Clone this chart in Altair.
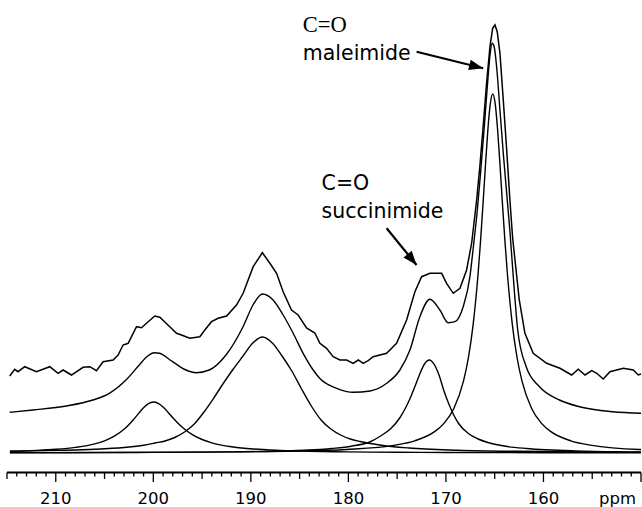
import altair as alt
import pandas as pd

# ---------------- data (ppm, intensity) ----------------
noisy_ppm = [214.72, 214.21, 213.87, 213.18, 211.98, 210.62, 209.76, 209.25, 208.39, 207.20,
             206.51, 205.83, 205.15, 204.12, 203.61, 203.10, 202.58, 201.72, 201.21, 200.70,
             199.85, 199.33, 198.31, 197.62, 197.11, 196.26, 195.23, 194.72, 194.03, 193.35,
             192.49, 191.47, 190.79, 189.76, 188.82, 188.05, 187.36, 186.69, 185.83, 185.15,
             184.29, 183.44, 182.92, 182.24, 181.56, 180.87, 180.18, 179.51, 178.99, 178.48,
             177.97, 177.46, 176.08, 175.06, 174.03, 173.18, 172.49, 171.64, 170.44, 169.93,
             169.25, 168.56, 167.88, 167.36, 166.85, 166.51, 166.17, 165.83, 165.49, 165.21,
             164.97, 164.74, 164.46, 164.12, 163.77, 163.44, 163.16, 162.48, 161.90, 161.05,
             159.67, 158.31, 157.11, 156.43, 155.74, 155.05, 154.54, 153.87, 153.18, 151.81,
             150.79, 150.28, 150.0]
noisy_int = [77, 83.7, 81.3, 86.3, 81.3, 86.3, 79.7, 83, 78, 85.7,
             86.3, 82.3, 91.3, 93, 98, 108, 109.7, 126.3, 125.3, 129.7,
             137, 135.7, 126.3, 119.7, 118, 114.7, 116.3, 123, 131.3, 134.7,
             137, 148, 159.7, 186.3, 200.3, 189.7, 179.7, 161.3, 143, 138,
             125, 120, 109.7, 104.7, 96.3, 93, 93, 89.7, 93, 89.7,
             92.3, 96.3, 99.7, 109.7, 133, 161.3, 176.3, 179.7, 179.7, 169.7,
             159.7, 164.7, 183, 210, 253, 288, 328, 370, 406, 424.7,
             428, 421.3, 399.7, 353, 303, 253, 215, 153, 119.7, 99.7,
             89.7, 84.7, 78, 83.7, 78, 82.3, 79.7, 74, 81.3, 84.7,
             83, 78, 79]

fit_ppm = [214.72, 212.33, 208.91, 206.19, 204.51, 202.80, 201.44, 200.58, 199.90, 199.38,
           198.02, 196.65, 195.62, 194.26, 192.55, 190.80, 189.78, 188.81, 187.72, 186.69,
           185.66, 184.64, 183.61, 182.92, 181.20, 179.49, 177.78, 176.07, 174.72, 173.69,
           172.67, 171.64, 170.62, 169.77, 169.08, 168.23, 167.54, 167.20, 166.79, 166.45,
           166.10, 165.76, 165.49, 165.26, 165.05, 164.80, 164.46, 164.12, 163.77, 163.44,
           162.97, 162.63, 161.77, 160.41, 158.36, 156.31, 152.89, 150.0]
fit_int = [40.7, 43, 47, 53, 59.7, 73, 88, 97, 100.3, 99.7,
           91.3, 83, 80.3, 83, 98, 126.3, 148, 159, 153, 138,
           119.7, 99.7, 83, 74.5, 64.7, 60.7, 62, 69.7, 83, 103,
           136.3, 153.7, 143, 130.3, 131.3, 146.3, 176.3, 205, 242, 280,
           322, 366, 397, 409.7, 406, 386, 343, 299.7, 259.7, 222,
           160, 122, 86.3, 66.3, 53, 46.3, 41.3, 39.7]

c200_ppm = [214.7, 212, 210, 208, 206, 205, 204, 203, 202, 201.5, 201, 200.5, 200, 199.5, 199,
            198.5, 198, 197, 196, 195, 194, 192, 190, 187, 184, 180, 175, 170, 160, 150]
c200_int = [1.7, 2.6, 3.7, 5.6, 9.1, 12.2, 16.8, 23.7, 33.8, 39.6, 45.2, 49.4, 51, 49.6, 45.9,
            40.8, 35.3, 25.5, 18.4, 13.5, 10.2, 6.3, 4.2, 2.6, 1.7, 1.1, 0.7, 0.5, 0.3, 0.2]

c189_ppm = [214.7, 210, 206, 203, 201, 199.8, 198.8, 197.8, 196.8, 195.8, 194.8, 193.8, 192.8,
            191.8, 190.8, 189.8, 188.8, 187.8, 186.8, 185.8, 184.8, 183.8, 182.8, 181.8, 180.8,
            179.8, 178.8, 176.8, 173.8, 168.8, 162.8, 150]
c189_int = [1.7, 2.6, 3.7, 5.5, 7.7, 10, 12, 15.5, 21, 29, 41, 55, 70,
            84, 97, 110, 116, 110, 97, 82, 64, 47, 33, 24, 18,
            14, 11.5, 8, 5, 2.8, 1.7, 0.9]

c172_ppm = [214.7, 201.7, 191.7, 186.7, 181.7, 179.7, 177.7, 176.7, 175.7, 174.7, 174.2, 173.7,
            173.2, 172.7, 172.2, 171.7, 171.2, 170.7, 170.2, 169.7, 169.2, 168.7, 167.7, 166.7,
            165.7, 163.7, 161.7, 156.7, 151.7, 150]
c172_int = [0.25, 0.52, 1.16, 2.05, 4.5, 6.8, 11.5, 17, 24, 35.5, 44, 54,
            66, 78.5, 89, 93, 88.6, 77.7, 62, 49, 38, 29.5, 19.5, 14,
            10.5, 6.5, 4.5, 2.05, 1.16, 1.0]

c165_ppm = [214.7, 195.2, 185.2, 180.2, 175.2, 173.2, 171.2, 170.2, 169.2, 168.2, 167.7, 167.2,
            166.7, 166.45, 166.2, 165.95, 165.7, 165.45, 165.2, 164.95, 164.7, 164.45, 164.2,
            163.95, 163.7, 163.2, 162.7, 162.2, 161.2, 160.2, 159.2, 157.2, 155.2, 150.2, 150]
c165_int = [0.33, 0.9, 2.0, 3.55, 7.9, 12.2, 21.1, 29.6, 44.3, 71.8, 95, 129.2,
            179.5, 211.9, 248.5, 287.2, 323.1, 349.3, 359, 349.3, 323.1, 287.2, 248.5,
            211.9, 179.5, 129.2, 95, 71.8, 44.3, 29.6, 21.1, 12.2, 7.9, 3.55, 3.5]

minor_ticks = [t for t in range(150, 216) if t % 5 != 0]
mid_ticks = [t for t in range(150, 216) if t % 5 == 0 and t % 10 != 0]
major_ticks = [t for t in range(150, 216) if t % 10 == 0]
tick_labels = ["160", "170", "180", "190", "200", "210"]
tick_label_pos = [160, 170, 180, 190, 200, 210]

ann_text = ["C=O", "maleimide", "C=O", "succinimide"]
ann_ppm = [184.67, 184.67, 182.75, 182.75]
ann_int = [421.3, 393.0, 263.0, 234.7]

arrow_from_ppm = [173.01, 176.08]
arrow_from_int = [401.3, 224.7]
arrow_to_ppm = [166.18, 173.01]
arrow_to_int = [384.7, 188.0]
arrow_angle = [14.0, 50.7]

# ---------------- tables ----------------
comp_rows = []
for name, xs, ys in [("c200", c200_ppm, c200_int), ("c189", c189_ppm, c189_int),
                     ("c172", c172_ppm, c172_int), ("c165", c165_ppm, c165_int),
                     ("fit", fit_ppm, fit_int)]:
    for a, b in zip(xs, ys):
        comp_rows.append({"ppm": a, "intensity": b, "curve": name})
smooth_df = pd.DataFrame(comp_rows)
noisy_df = pd.DataFrame({"ppm": noisy_ppm, "intensity": noisy_int})

xscale = alt.Scale(domain=[150, 215], reverse=True, nice=False, zero=False)
yscale = alt.Scale(domain=[-20, 453], nice=False, zero=False)

X = lambda f: alt.X(f, type="quantitative", scale=xscale, axis=None)
Y = lambda f: alt.Y(f, type="quantitative", scale=yscale, axis=None)

smooth = alt.Chart(smooth_df).mark_line(color="black", strokeWidth=1.4,
                                        interpolate="monotone").encode(
    x=X("ppm"), y=Y("intensity"), detail="curve:N")

noisy = alt.Chart(noisy_df).mark_line(color="black", strokeWidth=1.5,
                                      interpolate="linear").encode(
    x=X("ppm"), y=Y("intensity"))

axis_line = alt.Chart(pd.DataFrame({"a": [215], "b": [150]})).mark_rule(
    color="black", strokeWidth=1.8).encode(
    x=X("a"), x2="b", y=alt.YDatum(-19.5, scale=yscale, axis=None))

def tick_layer(vals, end):
    return alt.Chart(pd.DataFrame({"t": vals})).mark_rule(color="black", strokeWidth=1.3).encode(
        x=X("t"), y=alt.YDatum(-19.5, scale=yscale, axis=None), y2=alt.Y2Datum(end))

ticks = tick_layer(minor_ticks, -23.5) + tick_layer(mid_ticks, -26) + tick_layer(major_ticks, -29)

labels = alt.Chart(pd.DataFrame({"t": tick_label_pos, "s": tick_labels})).mark_text(
    font="DejaVu Sans", fontSize=16.5, align="center", baseline="alphabetic", color="black").encode(
    x=X("t"), y=alt.YDatum(-50.5, scale=yscale, axis=None), text="s:N")

ppm_label = alt.Chart(pd.DataFrame({"s": ["ppm"]})).mark_text(
    font="DejaVu Sans", fontSize=16.5, align="center", baseline="alphabetic", color="black").encode(
    x=alt.XDatum(152.41, scale=xscale, axis=None), y=alt.YDatum(-50.5, scale=yscale, axis=None),
    text="s:N")

ann_df = pd.DataFrame({"s": ann_text, "p": ann_ppm, "i": ann_int})
ann_serif = alt.Chart(ann_df.iloc[[0]]).mark_text(
    font="Liberation Serif", fontSize=22.5, align="left", baseline="alphabetic", color="black").encode(
    x=X("p"), y=Y("i"), text="s:N")
ann_sans = alt.Chart(ann_df.iloc[[1, 2, 3]]).mark_text(
    font="DejaVu Sans", fontSize=20.5, align="left", baseline="alphabetic", color="black").encode(
    x=X("p"), y=Y("i"), text="s:N")

arr_df = pd.DataFrame({"p0": arrow_from_ppm, "i0": arrow_from_int,
                       "p1": arrow_to_ppm, "i1": arrow_to_int, "ang": arrow_angle})
shafts = alt.Chart(arr_df).mark_rule(color="black", strokeWidth=2.2).encode(
    x=X("p0"), y=Y("i0"), x2="p1", y2="i1")
heads = alt.Chart(arr_df).mark_point(
    shape="M0,0L-2,-0.75L-2,0.75Z", filled=True, size=200, color="black",
    opacity=1, strokeWidth=0).encode(
    x=X("p1"), y=Y("i1"), angle=alt.Angle("ang:Q", scale=None))

chart = alt.layer(axis_line, ticks, labels, ppm_label, smooth, noisy,
                  ann_serif, ann_sans, shafts, heads).properties(
    width=634, height=473,
    autosize=alt.AutoSizeParams(type="none"),
    padding={"left": 7, "right": 1, "top": 0, "bottom": 34},
    background="white",
).configure_view(stroke=None)

chart.save("out.html", embed_options={"renderer": "svg", "actions": False})
